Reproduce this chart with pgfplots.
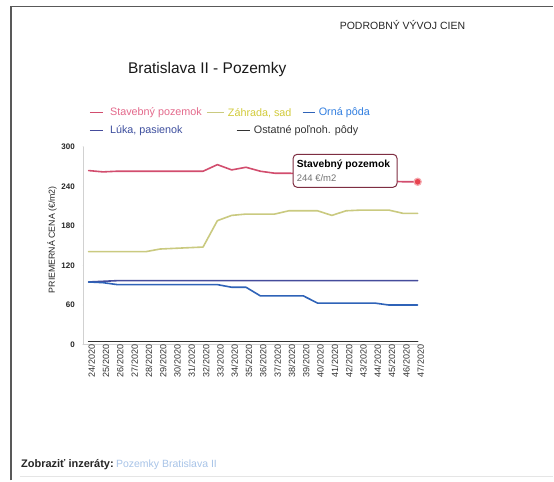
\documentclass[border=0pt]{standalone}
\usepackage{pgfplots}
\usepackage{pgfplotstable}
\pgfplotsset{compat=1.18}
\usepackage{fontspec}
\setmainfont{Liberation Sans}

\definecolor{cStav}{HTML}{D24D6E}
\definecolor{cStavTxt}{HTML}{E46A8C}
\definecolor{cZahr}{HTML}{CACA80}
\definecolor{cZahrTxt}{HTML}{D2CB3A}
\definecolor{cOrna}{HTML}{2F63B8}
\definecolor{cOrnaTxt}{HTML}{2F7DE0}
\definecolor{cLuka}{HTML}{454C9C}
\definecolor{cLukaTxt}{HTML}{3D4E9E}
\definecolor{cOst}{HTML}{333333}
\definecolor{cMark}{HTML}{E8434F}
\definecolor{cLink}{HTML}{A8C4E8}

\pgfplotstableread{
week stav zahr orna luka ost
24 264 141 95 95 5
25 262 141 94 96 5
26 263 141 91 97 5
27 263 141 91 97 5
28 263 141 91 97 5
29 263 145 91 97 5
30 263 146 91 97 5
31 263 147 91 97 5
32 263 148 91 97 5
33 273 188 91 97 5
34 265 196 87 97 5
35 269 198 87 97 5
36 263 198 74 97 5
37 260 198 74 97 5
38 260 203 74 97 5
39 259 203 74 97 5
40 258 203 63 97 5
41 258 196 63 97 5
42 257 203 63 97 5
43 256 204 63 97 5
44 253 204 63 97 5
45 248 204 60 97 5
46 247 199 60 97 5
47 247 199 60 97 5
}\datatable

\begin{document}
\begin{tikzpicture}
% canvas
\path[fill=white] (0,0) rectangle (554bp,-481bp);
% frame
\draw[line width=1.3bp, color=black!65] (11bp,-481bp) -- (11bp,-6.5bp) -- (554bp,-6.5bp);
\draw[line width=0.6bp, color=black!10] (20bp,-477bp) -- (554bp,-477bp);

% headings
\node[anchor=west, inner sep=0pt, font=\fontsize{10.5bp}{12bp}\selectfont, text=black!85] at (340bp,-25bp) {PODROBNÝ VÝVOJ CIEN};
\node[anchor=west, inner sep=0pt, font=\fontsize{15.5bp}{18bp}\selectfont, text=black!90] at (128bp,-70bp) {Bratislava II - Pozemky};

% legend
\begin{scope}[font=\fontsize{10.8bp}{12bp}\selectfont]
\draw[cStav, line width=1.2bp] (90bp,-113bp) -- (103bp,-113bp);
\node[anchor=west, inner sep=0pt, text=cStavTxt] at (110bp,-113bp) {Stavebný pozemok};
\draw[cZahr, line width=1.2bp] (207bp,-113bp) -- (224bp,-113bp);
\node[anchor=west, inner sep=0pt, text=cZahrTxt] at (228bp,-113bp) {Záhrada, sad};
\draw[cOrna, line width=1.2bp] (303bp,-113bp) -- (315bp,-113bp);
\node[anchor=west, inner sep=0pt, text=cOrnaTxt] at (319bp,-113bp) {Orná pôda};
\draw[cLuka, line width=1.2bp] (90bp,-131bp) -- (103bp,-131bp);
\node[anchor=west, inner sep=0pt, text=cLukaTxt] at (110bp,-131bp) {Lúka, pasienok};
\draw[cOst, line width=1.2bp] (237bp,-131bp) -- (250bp,-131bp);
\node[anchor=west, inner sep=0pt, text=cOst] at (254bp,-131bp) {Ostatné poľnoh. pôdy};
\end{scope}

% y label
\node[rotate=90, inner sep=0pt, font=\fontsize{8.8bp}{10bp}\selectfont, text=black!85] at (52bp,-240bp) {PRIEMERNÁ CENA (€/m2)};

\begin{axis}[
  at={(83bp,-345bp)}, anchor=south west,
  scale only axis, width=338bp, height=198bp,
  xmin=23.6, xmax=47.2, ymin=0, ymax=300,
  axis lines*=left,
  axis line style={draw=black!18, line width=0.8bp},
  every outer x axis line/.append style={-}, every outer y axis line/.append style={-},
  major tick length=0pt,
  xtick={24,...,47},
  xticklabels={24/2020,25/2020,26/2020,27/2020,28/2020,29/2020,30/2020,31/2020,32/2020,33/2020,34/2020,35/2020,36/2020,37/2020,38/2020,39/2020,40/2020,41/2020,42/2020,43/2020,44/2020,45/2020,46/2020,47/2020},
  xticklabel style={rotate=90, anchor=east, inner sep=0pt, yshift=-3bp, font=\fontsize{9bp}{10bp}\selectfont, text=black!80},
  ytick={0,60,120,180,240,300},
  yticklabel style={anchor=east, inner sep=0pt, xshift=-8bp, font=\bfseries\fontsize{8bp}{9bp}\selectfont, text=black!85},
  /pgf/number format/assume math mode=true,
  clip=false,
  line join=round, line cap=round,
]
\addplot[cOst, line width=1.6bp, no marks] table[x=week, y=ost] {\datatable};
\addplot[cLuka, line width=1.6bp, no marks] table[x=week, y=luka] {\datatable};
\addplot[cOrna, line width=1.6bp, no marks] table[x=week, y=orna] {\datatable};
\addplot[cZahr, line width=1.6bp, no marks] table[x=week, y=zahr] {\datatable};
\addplot[cStav, line width=1.6bp, no marks] table[x=week, y=stav] {\datatable};
\addplot[only marks, mark=*, mark size=3.6bp, mark options={fill=cMark, draw=cMark!45, line width=1.2bp}] coordinates {(47,247)};
\end{axis}

% tooltip
\node[draw=cStav!60!black, line width=1bp, rounded corners=4bp, fill=white, minimum width=104bp, minimum height=33bp, anchor=north west, inner sep=0pt] at (293bp,-154bp) {};
\node[anchor=west, inner sep=0pt, font=\bfseries\fontsize{10.3bp}{12bp}\selectfont, text=black] at (297bp,-165bp) {Stavebný pozemok};
\node[anchor=west, inner sep=0pt, font=\fontsize{9.5bp}{11bp}\selectfont, text=black!55] at (297bp,-178bp) {244 €/m2};

% bottom
\node[anchor=west, inner sep=0pt, font=\bfseries\fontsize{11bp}{13bp}\selectfont, text=black!85] at (21bp,-465bp) {Zobraziť inzeráty:};
\node[anchor=west, inner sep=0pt, font=\fontsize{10.5bp}{13bp}\selectfont, text=cLink] at (116bp,-465bp) {Pozemky Bratislava II};
\end{tikzpicture}
\end{document}
